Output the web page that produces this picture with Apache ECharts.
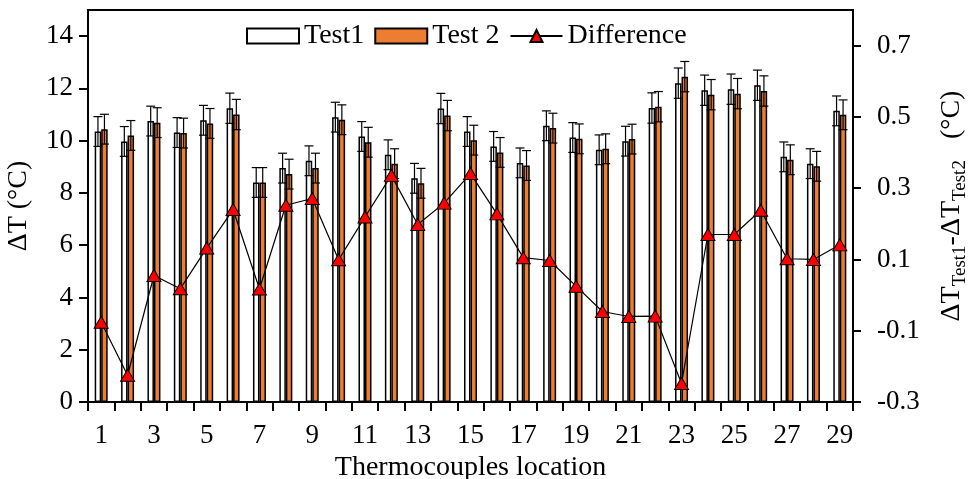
<!DOCTYPE html>
<html>
<head>
<meta charset="utf-8">
<script src="https://cdn.jsdelivr.net/npm/echarts@6/dist/echarts.min.js"></script>
<style>
  html, body { margin: 0; padding: 0; background: #fff; }
  #main { width: 971px; height: 479px; }
</style>
</head>
<body>
<div id="main"></div>
<script>
var cats = ['1','2','3','4','5','6','7','8','9','10','11','12','13','14','15','16','17','18','19','20','21','22','23','24','25','26','27','28','29'];
var test1 = [10.35, 9.97, 10.75, 10.31, 10.78, 11.24, 8.40, 8.95, 9.23, 10.90, 10.16, 9.46, 8.56, 11.23, 10.35, 9.78, 9.15, 10.57, 10.12, 9.65, 9.98, 11.25, 12.20, 11.93, 11.97, 12.12, 9.38, 9.12, 11.14];
var test2 = [10.44, 10.20, 10.69, 10.29, 10.66, 11.00, 8.40, 8.72, 8.95, 10.80, 9.94, 9.12, 8.37, 10.96, 10.02, 9.55, 9.05, 10.48, 10.07, 9.69, 10.06, 11.30, 12.45, 11.76, 11.80, 11.90, 9.27, 9.02, 10.99];
var err1 = [0.57, 0.57, 0.57, 0.57, 0.57, 0.58, 0.57, 0.57, 0.57, 0.57, 0.57, 0.57, 0.57, 0.58, 0.57, 0.57, 0.57, 0.57, 0.57, 0.57, 0.57, 0.58, 0.58, 0.58, 0.58, 0.58, 0.57, 0.57, 0.57];
var err2 = [0.57, 0.57, 0.57, 0.57, 0.57, 0.58, 0.57, 0.57, 0.57, 0.57, 0.57, 0.57, 0.57, 0.58, 0.57, 0.57, 0.57, 0.57, 0.57, 0.57, 0.57, 0.58, 0.58, 0.58, 0.58, 0.58, 0.57, 0.57, 0.57];
var diff = [-0.076, -0.225, 0.055, 0.018, 0.132, 0.240, 0.017, 0.252, 0.271, 0.099, 0.219, 0.336, 0.198, 0.258, 0.341, 0.228, 0.105, 0.097, 0.025, -0.046, -0.060, -0.059, -0.248, 0.170, 0.170, 0.238, 0.102, 0.100, 0.141];
var leftTicks = [0, 2, 4, 6, 8, 10, 12, 14];
var rightTicks = [-0.3, -0.1, 0.1, 0.3, 0.5, 0.7];

var font = 'Liberation Serif';
var myChart = echarts.init(document.getElementById('main'));

// error bar drawn as a custom series, shifted onto its own bar
function errBar(offset){
  return function(params, api){
    var i = api.value(0);
    var hi = api.coord([i, api.value(2)]);
    var lo = api.coord([i, api.value(1)]);
    var x = hi[0] + offset;
    var st = {stroke: '#000', lineWidth: 1.2, fill: null};
    return {
      type: 'group',
      children: [
        {type: 'line', shape: {x1: x, y1: hi[1], x2: x, y2: lo[1]}, style: st},
        {type: 'line', shape: {x1: x - 4.5, y1: hi[1], x2: x + 4.5, y2: hi[1]}, style: st},
        {type: 'line', shape: {x1: x - 4.5, y1: lo[1], x2: x + 4.5, y2: lo[1]}, style: st}
      ]
    };
  };
}

var errData1 = test1.map(function(v, i){ return [i, v - err1[i], v + err1[i]]; });
var errData2 = test2.map(function(v, i){ return [i, v - err2[i], v + err2[i]]; });

var option = {
  animation: false,
  textStyle: {fontFamily: font},
  grid: {
    left: 88,
    right: 118,
    top: 10,
    bottom: 77,
    outerBoundsMode: 'none',
    containLabel: false,
    show: true,
    borderColor: '#000',
    borderWidth: 2
  },
  legend: {
    left: 241,
    top: 17,
    itemWidth: 52,
    itemHeight: 15,
    itemGap: 10,
    textStyle: {fontFamily: font, fontSize: 28, color: '#000'},
    data: [
      {name: 'Test1', icon: 'rect'},
      {name: 'Test 2', icon: 'rect'},
      {name: 'Difference'}
    ]
  },
  xAxis: {
    type: 'category',
    data: cats,
    boundaryGap: true,
    name: 'Thermocouples location',
    nameLocation: 'middle',
    nameGap: 46,
    nameTextStyle: {fontFamily: font, fontSize: 28, color: '#000'},
    axisLine: {lineStyle: {color: '#000', width: 2}},
    axisTick: {show: true, interval: 0, length: 9, lineStyle: {color: '#000', width: 2}},
    axisLabel: {interval: 1, fontFamily: font, fontSize: 27, color: '#000', margin: 20},
    splitLine: {show: false}
  },
  yAxis: [
    {
      type: 'value',
      min: 0,
      max: 15,
      name: 'ΔT (°C)',
      nameLocation: 'middle',
      nameRotate: 90,
      nameGap: 55,
      nameTextStyle: {fontFamily: font, fontSize: 28, color: '#000'},
      axisLine: {show: true, lineStyle: {color: '#000', width: 2}},
      axisTick: {show: true, length: 9, customValues: leftTicks, lineStyle: {color: '#000', width: 2}},
      axisLabel: {fontFamily: font, fontSize: 27, color: '#000', margin: 15, customValues: leftTicks},
      splitLine: {show: false}
    },
    {
      type: 'value',
      min: -0.3,
      max: 0.8,
      position: 'right',
      name: '{a|ΔT}{s|Test1}{a|-ΔT}{s|Test2}{a|   (°C)}',
      nameLocation: 'middle',
      nameRotate: 90,
      nameGap: 81,
      nameTextStyle: {
        fontFamily: font,
        color: '#000',
        rich: {
          a: {fontFamily: font, fontSize: 28, color: '#000', lineHeight: 36, verticalAlign: 'middle'},
          s: {fontFamily: font, fontSize: 19, color: '#000', lineHeight: 14, verticalAlign: 'bottom'}
        }
      },
      axisLine: {show: true, lineStyle: {color: '#000', width: 2}},
      axisTick: {show: true, length: 8, customValues: rightTicks, lineStyle: {color: '#000', width: 2}},
      axisLabel: {fontFamily: font, fontSize: 27, color: '#000', margin: 24, customValues: rightTicks},
      splitLine: {show: false}
    }
  ],
  series: [
    {
      name: 'Test1',
      type: 'bar',
      data: test1,
      barWidth: 6.5,
      barGap: '0%',
      itemStyle: {color: '#ffffff', borderColor: '#000', borderWidth: 1.5}
    },
    {
      name: 'Test 2',
      type: 'bar',
      data: test2,
      barWidth: 6.5,
      barGap: '0%',
      itemStyle: {color: '#ED7D31', borderColor: '#000', borderWidth: 1.5}
    },
    {
      type: 'custom',
      renderItem: errBar(-3.25),
      data: errData1,
      encode: {x: 0, y: [1, 2]},
      z: 5,
      silent: true
    },
    {
      type: 'custom',
      renderItem: errBar(3.25),
      data: errData2,
      encode: {x: 0, y: [1, 2]},
      z: 5,
      silent: true
    },
    {
      name: 'Difference',
      type: 'line',
      yAxisIndex: 1,
      data: diff,
      symbol: 'triangle',
      symbolSize: [14, 12],
      z: 10,
      lineStyle: {color: '#000', width: 1.2},
      itemStyle: {color: '#FF0000', borderColor: '#000', borderWidth: 1}
    }
  ]
};

myChart.setOption(option);
</script>
</body>
</html>
